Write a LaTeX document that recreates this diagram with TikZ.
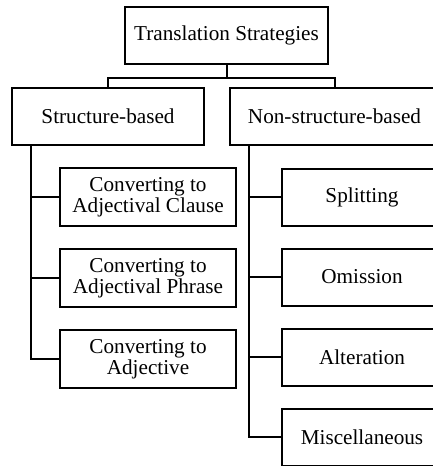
\documentclass[tikz,border=0pt]{standalone}
\usepackage{fontspec}
\setmainfont{Liberation Serif}
\usepackage{tikz}
\usetikzlibrary{positioning}
\tikzset{
  sblk/.style={draw, line width=1pt, align=center, inner sep=2pt,
               font=\fontsize{10.6}{10.4}\selectfont, minimum height=28.5pt},
  shead/.style={sblk, minimum width=101.5pt},
  sleft/.style={sblk, minimum width=88pt, minimum height=29pt},
  sright/.style={sblk, minimum width=80pt, minimum height=28.5pt},
  slink/.style={line width=1pt},
}
\begin{document}
\begin{tikzpicture}[x=0.5pt, y=-0.5pt, node distance=10.5pt]
        \path[use as bounding box, clip] (0,0) rectangle (433,466);
        \node[shead](ts) at (226.5,35.5){Translation Strategies};
        \node[sblk, minimum width=96pt](sb) at (108,116.5){Structure-based};
        \node[sblk, minimum width=105pt](nsb) at (334.5,116.5){Non-structure-based};
        % structure-based children
        \node[sleft](ac) at (148,197){Converting to\\Adjectival Clause};
        \node[sleft, below=of ac](ap){Converting to\\Adjectival Phrase};
        \node[sleft, below=of ap](aj){Converting to\\Adjective};
        % non-structure-based children
        \node[sright](sp) at (362,197){Splitting};
        \node[sright, below=of sp](om){Omission};
        \node[sright, below=of om](al){Alteration};
        \node[sright, below=of al](mi){Miscellaneous};
        \coordinate (fork) at ([yshift=-6.5pt]ts.south);
        \coordinate (ltrunk) at ([xshift=10pt]sb.south west);
        \coordinate (rtrunk) at ([xshift=10pt]nsb.south west);
        \draw[slink](ts.south)--(fork)-|(sb.north);
        \draw[slink](fork)-|(nsb.north);
        \draw[slink](ltrunk)|-(aj.west); \draw[slink](ac.west)--(ac.west-|ltrunk);
        \draw[slink](ap.west)--(ap.west-|ltrunk);
        \draw[slink](rtrunk)|-(mi.west); \draw[slink](sp.west)--(sp.west-|rtrunk);
        \draw[slink](om.west)--(om.west-|rtrunk); \draw[slink](al.west)--(al.west-|rtrunk);
      \end{tikzpicture}
\end{document}
